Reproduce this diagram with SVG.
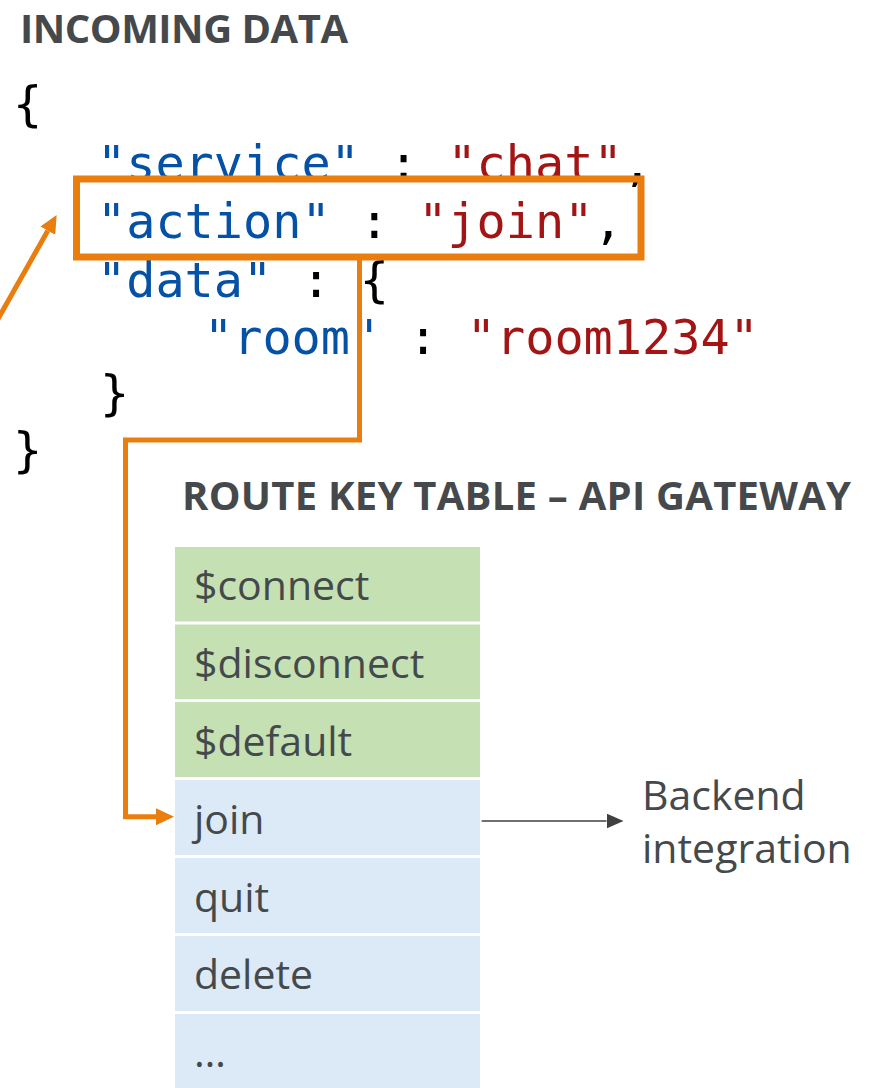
<svg xmlns="http://www.w3.org/2000/svg" width="872" height="1088" viewBox="0 0 872 1088">
<style>
.h{font-family:"Open Sans","Noto Sans","Liberation Sans",sans-serif;font-weight:700;font-size:40px;fill:#45494C}
.code{font-family:"DejaVu Sans Mono","Liberation Mono",monospace;font-size:48.5px;fill:#000}
.k{fill:#0451A5}
.v{fill:#A31515}
.row-g{fill:#C5E0B3}
.row-b{fill:#DCE9F6}
.t{font-family:"Open Sans","Noto Sans","Liberation Sans",sans-serif;font-size:41px;fill:#44494C}
.or{fill:none;stroke:#E97D0E;stroke-width:5}
</style>
<defs>
<marker id="ao" markerUnits="userSpaceOnUse" markerWidth="18" markerHeight="17" refX="0" refY="8.5" orient="auto">
<path d="M0,0 L18,8.5 L0,17 z" fill="#E97D0E"/>
</marker>
<marker id="ag" markerUnits="userSpaceOnUse" markerWidth="17" markerHeight="15" refX="0" refY="7.5" orient="auto">
<path d="M0,0 L17,7.5 L0,15 z" fill="#404040"/>
</marker>
</defs>
<rect width="872" height="1088" fill="#fff"/>

<g id="incoming-data">
<text class="h" x="20" y="43" textLength="328">INCOMING DATA</text>
<g class="code" xml:space="preserve">
<text x="13" y="121">{</text>
<text x="97" y="180"><tspan class="k">"service"</tspan> : <tspan class="v">"chat"</tspan>,</text>
<text x="97" y="238"><tspan class="k">"action"</tspan> : <tspan class="v">"join"</tspan>,</text>
<text x="97" y="296.5"><tspan class="k">"data"</tspan> : {</text>
<text x="204" y="354"><tspan class="k">"room"</tspan> : <tspan class="v">"room1234"</tspan></text>
<text x="100" y="410">}</text>
<text x="13" y="467">}</text>
</g>
</g>

<g id="route-key-table">
<text class="h" x="182" y="510" textLength="669">ROUTE KEY TABLE – API GATEWAY</text>
<g id="row-connect"><rect class="row-g" x="175" y="547" width="305" height="74.5"/><text class="t" x="194" y="600">$connect</text></g>
<g id="row-disconnect"><rect class="row-g" x="175" y="624.5" width="305" height="74.5"/><text class="t" x="194" y="678">$disconnect</text></g>
<g id="row-default"><rect class="row-g" x="175" y="702" width="305" height="75"/><text class="t" x="194" y="756">$default</text></g>
<g id="row-join"><rect class="row-b" x="175" y="780" width="305" height="75"/><text class="t" x="194" y="834">join</text></g>
<g id="row-quit"><rect class="row-b" x="175" y="858" width="305" height="75"/><text class="t" x="194" y="911.5">quit</text></g>
<g id="row-delete"><rect class="row-b" x="175" y="936" width="305" height="75"/><text class="t" x="194" y="989">delete</text></g>
<g id="row-more"><rect class="row-b" x="175" y="1014" width="305" height="80"/><text class="t" x="194" y="1067">…</text></g>
</g>

<g id="backend-integration">
<text class="t" x="642" y="810">Backend</text>
<text class="t" x="642" y="863">integration</text>
</g>

<g id="highlight">
<rect x="76.5" y="179" width="564.5" height="78" fill="none" stroke="#E97D0E" stroke-width="7"/>
</g>

<g id="connectors">
<path class="or" d="M-10,333 L47.8,230.7" marker-end="url(#ao)"/>
<path class="or" d="M359.5,257 V440 H125.5 V816.7 H156" marker-end="url(#ao)"/>
<path d="M481.7,821 H606.5" fill="none" stroke="#404040" stroke-width="1.4" marker-end="url(#ag)"/>
</g>
</svg>
